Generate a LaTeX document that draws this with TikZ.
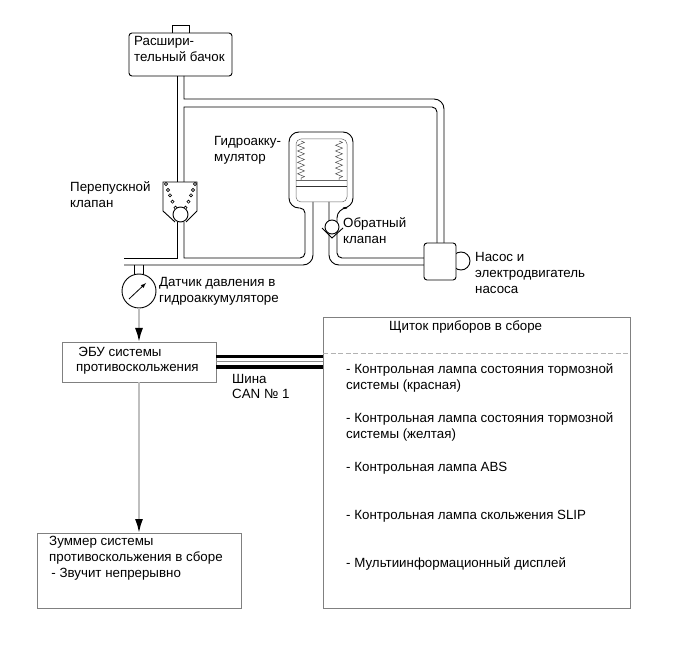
\documentclass[tikz,border=0pt]{standalone}
\usepackage{fontspec}
\setmainfont{Liberation Sans}
\usetikzlibrary{arrows.meta,decorations.pathmorphing}

\tikzset{
  pipe/.style={black, line width=0.9pt},
  thinbox/.style={draw=black!50, line width=0.8pt, inner sep=0pt, outer sep=0pt},
  lbl/.style={anchor=base west, inner sep=0pt, align=left, font=\fontsize{13.33}{16}\selectfont},
  sigline/.style={draw=black!25, line width=2pt, -{Latex[black, length=14pt, width=8pt]}},
  busline/.style={black, line width=3.6pt},
  bellows/.style={black!70, line width=0.5pt, decorate, decoration={zigzag, amplitude=3.5pt, segment length=5.7pt}},
}

\begin{document}
\begin{tikzpicture}[x=1pt, y=-1pt]
  \useasboundingbox (0,0) rectangle (691,660);

  % tank
  \draw[pipe] (172,33) -- (172,25) -- (189,25) -- (189,33);
  \node[draw, pipe, rounded corners=3pt, minimum width=103pt, minimum height=43pt, inner sep=0pt, outer sep=0pt] (tank) at (180.5,54.5) {};
  \node[lbl] (tanklbl) at (134,62) {Расшири-\\тельный бачок};

  % pipes
  \draw[pipe] (177,76) -- (177,182);
  \draw[pipe] (184,76) -- (184,99) -- (434,99) [rounded corners=10pt] -- (444,99) -- (444,243);
  \draw[pipe] (184,182) -- (184,107) -- (430,107) [rounded corners=5pt] -- (437,107) -- (437,243);
  \draw[pipe] (124,258) -- (177,258) -- (177,222);
  \draw[pipe] (184,222) -- (184,258) -- (295,258) [rounded corners=5pt] -- (305,258) -- (305,208)
    [rounded corners=10pt] -- (289,208) -- (289,132) -- (353,132) -- (353,208) -- (337,208)
    [rounded corners=5pt] -- (337,258) -- (424,258);
  \draw[pipe, rounded corners=10pt] (124,265) -- (313,265) -- (313,202);
  \draw[pipe, rounded corners=10pt] (329,202) -- (329,265) -- (424,265);

  % bypass valve
  \draw[pipe] (175,222) -- (163,211) -- (163,182) -- (197,182) -- (197,211) -- (186,222);
  \node[draw, pipe, circle, fill=white, minimum size=15pt, inner sep=0pt] (valveball) at (180.5,214.5) {};
  \foreach \bx/\by in {14.5/184,12.5/190,10.5/195.3,8/201.7,5/207.7} {
    \draw[black, line width=0.6pt, fill=white] (180.5-\bx,\by) circle (1.6pt);
    \draw[black, line width=0.6pt, fill=white] (180.5+\bx,\by) circle (1.6pt);
  }
  \node[lbl] (valvelbl) at (70,208) {Перепускной\\клапан};

  % accumulator
  \draw[black!60, line width=0.5pt, rounded corners=5pt] (296,202) rectangle (347,139);
  \draw[black!60, line width=0.5pt] (296,180.5) -- (347,180.5);
  \draw[black!80, line width=0.5pt] (296,186.5) -- (347,186.5);
  \draw[bellows] (301,141) -- (301,180);
  \draw[bellows] (339,141) -- (339,180);
  \node[lbl] (accumlbl) at (214,162) {Гидроакку-\\мулятор};

  % check valve
  \draw[pipe] (322,228) -- (332,238) -- (343,228);
  \node[draw, pipe, circle, fill=white, minimum size=14pt, inner sep=0pt] (checkball) at (332,227) {};
  \node[lbl] (checklbl) at (343,244) {Обратный\\клапан};

  % pump
  \node[draw, pipe, circle, minimum size=18pt, inner sep=0pt] (motor) at (461,261) {};
  \node[draw, pipe, rounded corners=3pt, fill=white, minimum width=32pt, minimum height=37pt, inner sep=0pt, outer sep=0pt] (pump) at (440,261.5) {};
  \node[lbl] (pumplbl) at (475,294) {Насос и\\электродвигатель\\насоса};

  % gauge
  \draw[pipe] (134,265) -- (134,275);
  \draw[pipe] (143,265) -- (143,275);
  \node[draw, pipe, circle, fill=white, minimum size=34pt, inner sep=0pt, outer sep=0pt] (gauge) at (139,291) {};
  \draw[black, line width=0.8pt, -latex] (129,299) -- (146,283);
  \node[lbl] (gaugelbl) at (159,303) {Датчик давления в\\гидроаккумуляторе};

  % boxes
  \node[thinbox, draw, minimum width=154pt, minimum height=40pt] (ecu) at (139,362) {};
  \node[lbl] (eculbl) at (76,372) {\,ЭБУ системы\\противоскольжения};
  \node[thinbox, draw, minimum width=204pt, minimum height=75pt] (buzzer) at (139,570.5) {};
  \node[thinbox, draw, minimum width=307pt, minimum height=291pt] (panel) at (476.5,462.5) {};
  \node[lbl] (buzzerlbl) at (49,577) {Зуммер системы\\противоскольжения в сборе\\\,- Звучит непрерывно};

  \draw[sigline] (gauge) -- (ecu);
  \draw[sigline] (ecu) -- (buzzer);

  % bus
  \foreach \busy in {356.5,367} {
    \draw[busline] (ecu.east |- 0,\busy) -- (panel.west |- 0,\busy);
  }
  \draw[black!45, line width=1.2pt] (ecu.east |- 0,361.7) -- (panel.west |- 0,361.7);
  \draw[black!30, line width=1pt, dash pattern=on 5pt off 2.5pt] (panel.west |- 0,354) -- (panel.east |- 0,354);
  \node[lbl] (buslbl) at (232,399) {Шина\\CAN № 1};

  % panel texts
  \node[lbl] (paneltitle) at (389,331) {Щиток приборов в сборе};
  \foreach \liney/\linetext [count=\pos] in {
    389/{- Контрольная лампа состояния тормозной\\системы (красная)},
    438/{- Контрольная лампа состояния тормозной\\системы (желтая)},
    471/{- Контрольная лампа ABS},
    519/{- Контрольная лампа скольжения SLIP},
    567/{- Мультиинформационный дисплей}} {
    \node[lbl] (panelline\pos) at (346,\liney) {\linetext};
  }
\end{tikzpicture}
\end{document}
